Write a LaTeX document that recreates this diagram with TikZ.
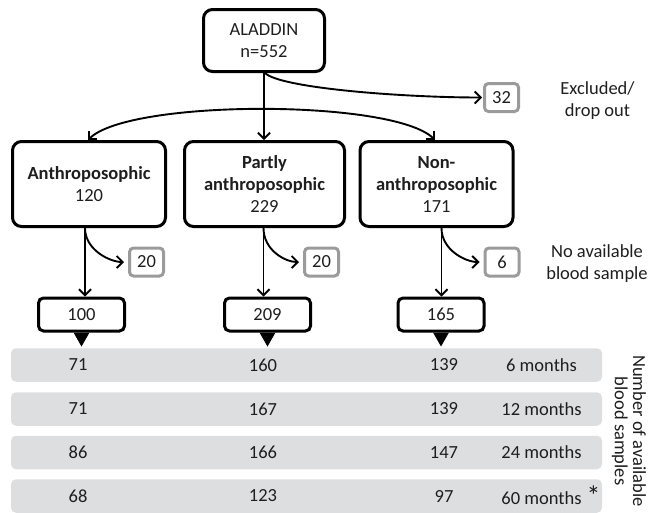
\documentclass[tikz,border=0pt]{standalone}
\usepackage{fontspec}
\setmainfont{Carlito}
\usetikzlibrary{arrows.meta,positioning}
\definecolor{rowgrey}{HTML}{DDDEE0}
\definecolor{dropgrey}{HTML}{9B9B9B}
\definecolor{inkgrey}{HTML}{1E1E1E}

\begin{document}
\begin{tikzpicture}[
  x=1pt, y=-1pt,
  font=\fontsize{18.5}{22}\selectfont,
  text=inkgrey,
  cohort/.style={draw=black, line width=3pt, rounded corners=9pt, align=center, inner sep=0pt},
  group/.style={cohort, minimum width=153pt, minimum height=85pt},
  sample/.style={draw=black, line width=3pt, rounded corners=5pt, minimum width=86pt, minimum height=33pt, inner sep=0pt},
  dropbox/.style={draw=dropgrey, line width=3pt, rounded corners=4pt, minimum width=34pt, minimum height=28pt, inner sep=0pt},
  row/.style={fill=rowgrey, rounded corners=5pt, minimum width=591pt, minimum height=33.5pt, inner sep=0pt},
  flow/.style={-{Straight Barb[length=6pt,width=12pt]}, draw=black, line width=1.9pt},
  drop/.style={flow, shorten >=4pt},
  note/.style={align=center}
]
\useasboundingbox (0,0) rectangle (652,512);

\node[cohort, minimum width=121pt, minimum height=62pt] (aladdin) at (264,40.5) {ALADDIN\\n=552};
\node[group] (anth) at (89,184) {\textbf{Anthroposophic}\\120};
\node[group, minimum width=160pt] (partly) at (264.5,184) {\textbf{Partly}\\\textbf{anthroposophic}\\229};
\node[group] (non) at (436.5,184) {\textbf{Non-}\\\textbf{anthroposophic}\\171};

\node[dropbox] (ex32) at (501.5,97.5) {32};
\node[note] (exNote) at (597.5,101) {Excluded/\\drop out};
\node[dropbox] (exAnth) at (146.5,262) {20};
\node[dropbox] (exPartly) at (321.5,262) {20};
\node[dropbox] (exNon) at (502,262) {6};
\node[note] (bloodNote) at (597,264) {No available\\blood sample};

\node[sample] (nAnth) at (81.5,314.5) {100};
\node[sample] (nPartly) at (267.5,314.5) {209};
\node[sample] (nNon) at (441,314.5) {165};
\fill[black] ([xshift=-8pt]nAnth.south) -- ([xshift=8pt]nAnth.south) -- ([yshift=-14pt]nAnth.south) -- cycle;
\fill[black] ([xshift=-8pt]nPartly.south) -- ([xshift=8pt]nPartly.south) -- ([yshift=-14pt]nPartly.south) -- cycle;
\fill[black] ([xshift=-8pt]nNon.south) -- ([xshift=8pt]nNon.south) -- ([yshift=-14pt]nNon.south) -- cycle;

\node[row] (row6) at (306.5,365) {};
\node[row] (row12) at (306.5,409) {};
\node[row] (row24) at (306.5,452.5) {};
\node[row] (row60) at (306.5,496) {};
\node (a6) at (78,365) {71};
\node (p6) at (263,365) {160};
\node (n6) at (444,365) {139};
\node (m6) at (541.5,365) {6 months};
\node (a12) at (78,409) {71};
\node (p12) at (263,409) {167};
\node (n12) at (444,409) {139};
\node (m12) at (541.5,409) {12 months};
\node (a24) at (78,452.5) {86};
\node (p24) at (263,452.5) {166};
\node (n24) at (444,452.5) {147};
\node (m24) at (541.5,452.5) {24 months};
\node (a60) at (78,496) {68};
\node (p60) at (263,496) {123};
\node (n60) at (444,496) {97};
\node (m60) at (541.5,496) {60 months\rlap{\hspace{5pt}\raisebox{-1pt}{\scalebox{1.5}{*}}}};
\node[rotate=-90, align=center, font=\fontsize{18.5}{18.3}\selectfont] (axisNote) at (629,431) {Number of available\\blood samples};

\draw[flow] (aladdin.south) -- (aladdin.south |- partly.north);
\draw[flow] ([xshift=1pt]aladdin.south) .. controls +(15,15) and +(-80,0) .. ([xshift=-1pt]ex32.west);
\draw[{Straight Barb[length=6pt,width=12pt]}-{Straight Barb[length=6pt,width=12pt]}, line width=1.9pt] ([xshift=-1pt]anth.north) .. controls +(41,-41) and +(-41,-41) .. ([xshift=-1.5pt]non.north);
\draw[flow] ([xshift=-4pt]anth.south) -- ([xshift=-4pt]anth.south |- nAnth.north);
\draw[flow] ([xshift=-1pt]partly.south) -- ([xshift=-1pt]partly.south |- nPartly.north);
\draw[flow] ([xshift=5pt]non.south) -- ([xshift=5pt]non.south |- nNon.north);
\draw[drop] ([xshift=-4pt]anth.south) .. controls +(0,22) and +(-18,0) .. (exAnth.west);
\draw[drop] ([xshift=-1pt]partly.south) .. controls +(0,22) and +(-18,0) .. (exPartly.west);
\draw[drop] ([xshift=5pt]non.south) .. controls +(0,22) and +(-18,0) .. (exNon.west);
\end{tikzpicture}
\end{document}
